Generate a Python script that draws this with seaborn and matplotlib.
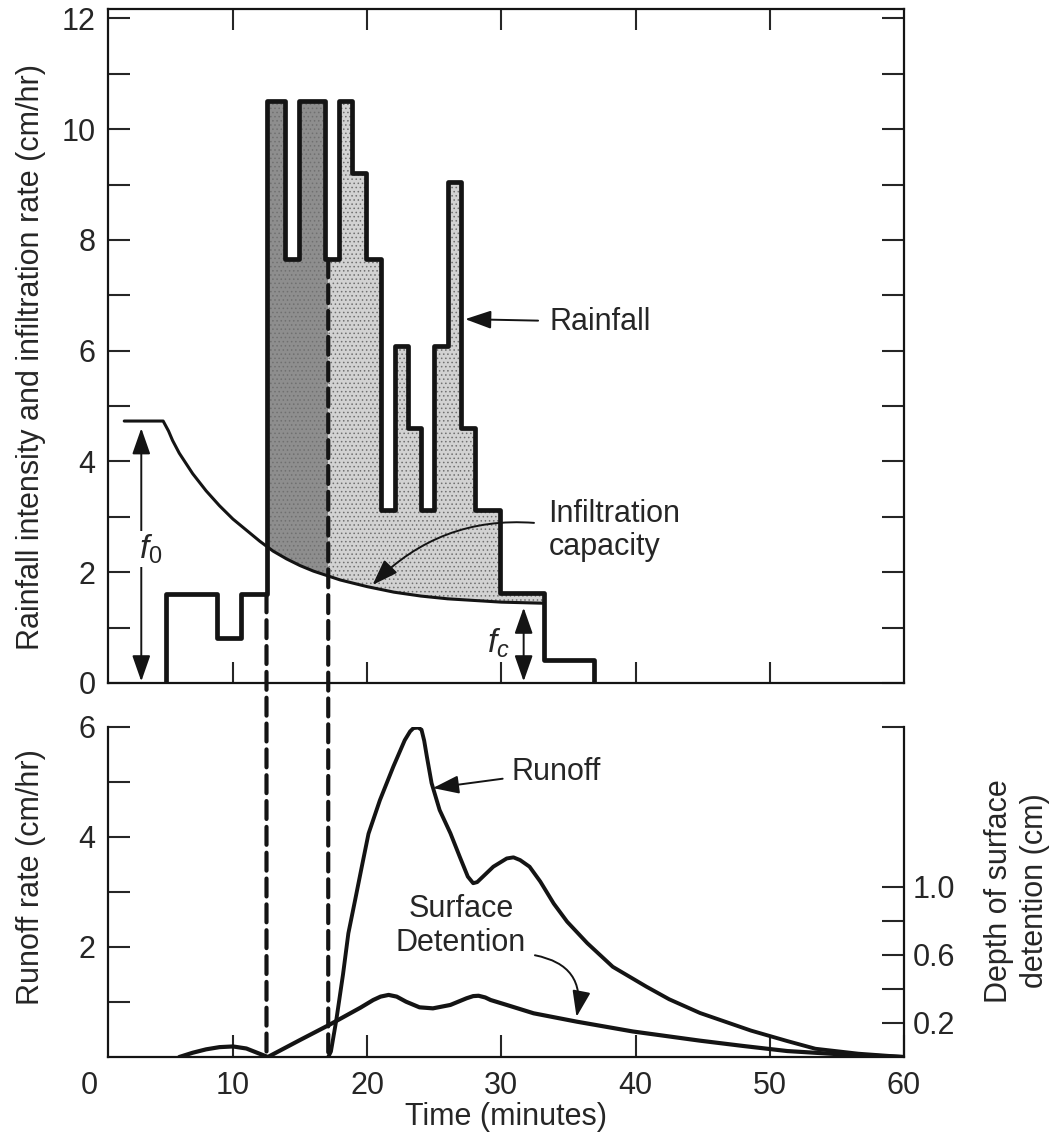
import numpy as np
import matplotlib
matplotlib.use("Agg")
import matplotlib.pyplot as plt
from matplotlib.patches import ConnectionPatch
import seaborn as sns

# Rainfall hyetograph: step edges (min) and intensity in each step (cm/hr)
rain_edges = [5.0, 8.8, 10.6, 12.5, 13.9, 14.9, 16.85, 17.9, 18.9, 19.9, 21.0,
              22.05, 23.05, 24.0, 25.0, 26.0, 27.0, 28.05, 29.9, 33.2, 36.9]
rain_rate = [1.6, 0.82, 1.6, 10.5, 7.65, 10.5, 7.65, 10.5, 9.2, 7.65, 3.13,
             6.08, 4.6, 3.13, 6.08, 9.05, 4.6, 3.13, 1.62, 0.42]

# Infiltration capacity (cm/hr)
infil_t = [1.9, 4.8, 5.2, 5.5, 6, 7, 8, 9, 10, 11, 12, 13, 14, 15, 16, 17, 18,
           19, 20, 22, 24, 26, 28, 30, 33.2]
infil_f = [4.73, 4.73, 4.55, 4.38, 4.15, 3.78, 3.47, 3.2, 2.96, 2.76, 2.56,
           2.38, 2.24, 2.12, 2.02, 1.94, 1.86, 1.8, 1.74, 1.64, 1.57, 1.52,
           1.49, 1.46, 1.44]

# Runoff rate (cm/hr)
runoff_t = [17.1, 17.3, 17.7, 18.2, 18.6, 19.1, 19.6, 20.1, 20.95, 21.95, 22.8,
            23.2, 23.45, 23.8, 24.05, 24.25, 24.45, 24.8, 25.4, 26.2, 26.9, 27.5,
            27.9, 28.2, 28.5, 29.4, 30.4, 30.9, 31.4, 32.1, 32.9, 33.9, 34.9,
            36.4, 38.3, 40.8, 42.5, 44.8, 48.6, 51.3, 53.4, 56.6, 60.0]
runoff_q = [0.0, 0.1, 0.67, 1.5, 2.25, 2.85, 3.46, 4.06, 4.67, 5.28, 5.76,
            5.92, 5.98, 5.99, 5.95, 5.75, 5.46, 4.98, 4.49, 4.07, 3.64, 3.28,
            3.16, 3.18, 3.25, 3.46, 3.61, 3.63, 3.58, 3.46, 3.19, 2.79, 2.46,
            2.07, 1.64, 1.28, 1.05, 0.8, 0.48, 0.29, 0.15, 0.06, 0.0]

# Depth of surface detention (cm)
det_t = [6.0, 7.0, 8.0, 9.0, 10.0, 11.0, 11.8, 12.6, 15.0, 17.2, 19.5, 20.45,
         21.0, 21.6, 22.2, 22.9, 23.9, 24.9, 26.2, 27.4, 27.9, 28.3, 28.8, 29.2,
         30.4, 32.4, 35.6, 39.8, 44.8, 48.0, 51.3, 55.6, 60.0]
det_d = [0.0, 0.025, 0.045, 0.058, 0.062, 0.05, 0.025, 0.0, 0.1, 0.19, 0.29,
         0.335, 0.355, 0.365, 0.355, 0.325, 0.292, 0.286, 0.306, 0.345, 0.358,
         0.36, 0.35, 0.335, 0.306, 0.257, 0.208, 0.15, 0.096, 0.065, 0.035,
         0.014, 0.0]

t_ponding = 12.5
t_runoff = 17.1


def rate_at(t):
    k = np.searchsorted(rain_edges, t, side="right") - 1
    return rain_rate[k]


def excess_polygon(a, b):
    # rainfall step on top, infiltration curve underneath
    xs, ys = [a], [rate_at(a)]
    for k, e in enumerate(rain_edges):
        if a < e < b:
            xs += [e, e]
            ys += [rain_rate[k - 1], rain_rate[k]]
    xs.append(b)
    ys.append(rate_at(b - 1e-9))
    ti, fi = np.array(infil_t), np.array(infil_f)
    inner = (ti > a) & (ti < b)
    xs += [b] + list(ti[inner][::-1]) + [a]
    ys += [np.interp(b, ti, fi)] + list(fi[inner][::-1]) + [np.interp(a, ti, fi)]
    return xs, ys


sns.set_style("ticks")
plt.rcParams["font.family"] = ["Liberation Sans", "DejaVu Sans"]
plt.rcParams["mathtext.fontset"] = "custom"
plt.rcParams["mathtext.it"] = "Liberation Sans:italic"
plt.rcParams["mathtext.rm"] = "Liberation Sans"
plt.rcParams["hatch.linewidth"] = 0.6

W, H = 1063, 1140
fig = plt.figure(figsize=(W / 100, H / 100), dpi=100)
ax1 = fig.add_axes([108 / W, 1 - 683 / H, 796 / W, 674 / H])
ax2 = fig.add_axes([108 / W, 1 - 1057 / H, 796 / W, 330 / H])
ax3 = ax2.twinx()

ink = "#141414"
x0 = 0.69

# ---- top panel: rainfall and infiltration ----
for (a, b), col in [((t_ponding, t_runoff), "#8e8e8e"), ((t_runoff, 33.2), "#d2d2d2")]:
    px, py = excess_polygon(a, b)
    ax1.fill(px, py, facecolor=col, edgecolor="none", zorder=1)
    ax1.fill(px, py, facecolor="none", edgecolor="#707070", hatch="....", linewidth=0, zorder=1.2)

rx = [rain_edges[0]] + rain_edges
ry = [0.0] + rain_rate + [0.0]
sns.lineplot(x=rx, y=ry, ax=ax1, color=ink, lw=3.4, sort=False, estimator=None,
             drawstyle="steps-post", zorder=3)
sns.lineplot(x=infil_t, y=infil_f, ax=ax1, color=ink, lw=2.2, sort=False,
             estimator=None, zorder=3)

ax1.set_xlim(x0, 60)
ax1.set_ylim(0, 12.17)
ax1.set_xticks([10, 20, 30, 40, 50])
ax1.set_yticks(range(0, 13, 2))
ax1.set_yticks(range(1, 13, 2), minor=True)
ax1.tick_params(axis="x", which="both", direction="in", length=15, width=1.5,
                top=True, bottom=True, labelbottom=False)
ax1.tick_params(axis="y", which="both", direction="in", length=16, width=1.5,
                left=True, right=True, labelsize=22, pad=9)
for s in ax1.spines.values():
    s.set_linewidth(1.6)
    s.set_color(ink)
ax1.set_ylabel("Rainfall intensity and infiltration rate (cm/hr)", fontsize=22, va="center")
ax1.yaxis.set_label_coords(-0.097, 0.484)

arrow2 = dict(arrowstyle="<|-|>,head_length=0.8,head_width=0.28", mutation_scale=20,
              color=ink, lw=1.4, shrinkA=0, shrinkB=0)
arrow1 = dict(arrowstyle="-|>,head_length=0.8,head_width=0.28", mutation_scale=20,
              color=ink, lw=1.4, shrinkA=0, shrinkB=0)

ax1.annotate("", xy=(3.17, 0.03), xytext=(3.17, 4.6), arrowprops=arrow2, zorder=4)
ax1.text(3.85, 2.42, r"$f_{\mathit{0}}$", fontsize=24, ha="center", va="center",
         bbox=dict(facecolor="white", edgecolor="none", pad=1), zorder=5)
ax1.annotate("", xy=(31.66, 0.03), xytext=(31.66, 1.36), arrowprops=arrow2, zorder=4)
ax1.text(29.8, 0.72, r"$f_c$", fontsize=24, ha="center", va="center", zorder=5)

ax1.annotate("Rainfall", xy=(27.3, 6.57), xytext=(33.6, 6.52), fontsize=22,
             ha="left", va="center", arrowprops=dict(arrow1, shrinkA=6), zorder=5)
ax1.annotate("Infiltration\ncapacity", xy=(20.4, 1.77), xytext=(33.5, 2.75),
             fontsize=22, ha="left", va="center", linespacing=1.15,
             arrowprops=dict(arrow1, connectionstyle="arc3,rad=0.25",
                             relpos=(0.0, 0.6), shrinkA=8), zorder=5)

# ---- bottom panel: runoff and surface detention ----
sns.lineplot(x=runoff_t, y=runoff_q, ax=ax2, color=ink, lw=2.8, sort=False,
             estimator=None, zorder=3)
sns.lineplot(x=det_t, y=det_d, ax=ax3, color=ink, lw=3.0, sort=False,
             estimator=None, zorder=3)

ax2.set_xlim(x0, 60)
ax2.set_ylim(0, 6)
ax3.set_ylim(0, 1.94)
ax2.set_xticks([10, 20, 30, 40, 50, 60])
ax2.set_yticks([2, 4, 6])
ax2.set_yticks([1, 3, 5], minor=True)
ax2.tick_params(axis="x", which="both", direction="in", length=16, width=1.5,
                labelsize=22, pad=10, top=False)
ax2.tick_params(axis="y", which="both", direction="in", length=16, width=1.5,
                labelsize=22, pad=9, left=True, right=False)
ax3.set_yticks([0.2, 0.4, 0.6, 0.8, 1.0, 1.94])
ax3.set_yticklabels(["0.2", "", "0.6", "", "1.0", ""])
ax3.tick_params(axis="y", direction="in", length=16, width=1.5, labelsize=22,
                pad=6, right=True, left=False)
for s in ["top", "right"]:
    ax2.spines[s].set_visible(False)
for s in ["top", "left", "bottom"]:
    ax3.spines[s].set_visible(False)
for s in ["left", "bottom"]:
    ax2.spines[s].set_linewidth(1.6)
    ax2.spines[s].set_color(ink)
ax3.spines["right"].set_linewidth(1.6)
ax3.spines["right"].set_color(ink)

ax2.annotate("0", xy=(-0.7, 0), xycoords=("data", "axes fraction"),
             xytext=(0, -10), textcoords="offset points", ha="center", va="top",
             fontsize=22, annotation_clip=False)

ax2.set_xlabel("Time (minutes)", fontsize=22, va="center")
ax2.xaxis.set_label_coords(0.5, -0.182)
ax2.set_ylabel("Runoff rate (cm/hr)", fontsize=22, va="center")
ax2.yaxis.set_label_coords(-0.097, 0.545)
ax3.set_ylabel("Depth of surface\ndetention (cm)", fontsize=22, va="center",
               ha="center", linespacing=1.3, rotation=90)
ax3.yaxis.set_label_coords(1.142, 0.503)

ax2.annotate("Runoff", xy=(24.9, 4.89), xytext=(30.75, 5.19), fontsize=22,
             ha="left", va="center", arrowprops=dict(arrow1, shrinkA=4), zorder=5)
ax2.text(27.0, 2.38, "Surface\nDetention", fontsize=22, ha="center", va="center",
         linespacing=1.2, zorder=5)
ax2.annotate("", xy=(35.6, 0.73), xytext=(32.5, 1.85),
             arrowprops=dict(arrow1, connectionstyle="arc3,rad=-0.5"), zorder=5)

# dashed lines marking ponding time and start of runoff
for t0, ytop in [(t_ponding, 1.6), (t_runoff, 7.65)]:
    con = ConnectionPatch(xyA=(t0, ytop), coordsA=ax1.transData,
                          xyB=(t0, 0), coordsB=ax2.transData,
                          linestyle=(0, (4.3, 1.9)), lw=3.0, color=ink)
    fig.add_artist(con)

plt.savefig("out.png", dpi=100)
